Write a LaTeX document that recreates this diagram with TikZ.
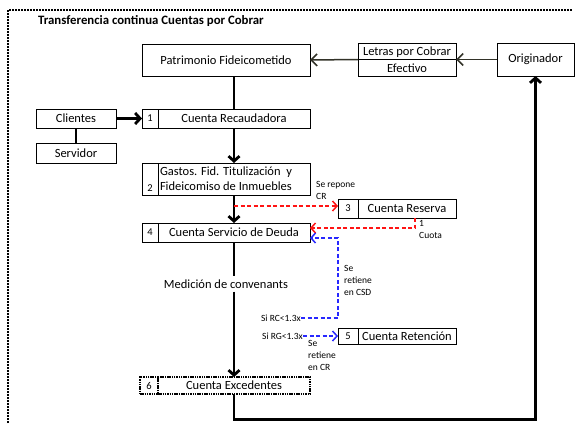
\documentclass[tikz,border=0pt]{standalone}
\usepackage{fontspec}
\setmainfont{Carlito}
\usetikzlibrary{arrows.meta}

\definecolor{repred}{RGB}{255,20,20}
\definecolor{retblue}{RGB}{40,40,255}
\definecolor{linegray}{RGB}{50,50,40}

\begin{document}
\begin{tikzpicture}[x=1pt, y=-1pt]

% Define styles
\tikzstyle{box} = [rectangle, draw=black, line width=0.9pt, inner sep=2pt, outer sep=0pt, text centered, font=\fontsize{12.5}{15}\selectfont]
\tikzstyle{numcell} = [box, minimum width=16pt, font=\fontsize{10.5}{15}\selectfont]
\tikzstyle{note} = [inner sep=0pt, align=left, font=\fontsize{9.5}{12}\selectfont]
\tikzstyle{flow} = [line width=2.8pt, -{Straight Barb[length=5pt,width=11pt]}]
\tikzstyle{transfer} = [draw=linegray, line width=1.5pt, -{Straight Barb[length=6pt,width=12pt,line width=1.6pt]}]
\tikzstyle{reddash} = [draw=repred, line width=1.5pt, dash pattern=on 4pt off 2.5pt, -{Straight Barb[length=4.5pt,width=10pt]}]
\tikzstyle{bluedash} = [draw=retblue, line width=1.5pt, dash pattern=on 4pt off 2.5pt, -{Straight Barb[length=4.5pt,width=10pt]}]

\useasboundingbox (0,0) rectangle (577,423);

% Outer frame and title
\draw [line width=1.3pt, dash pattern=on 2pt off 1pt] (8,423) -- (8,10) -- (572,10);
\node [anchor=west, inner sep=0pt, font=\bfseries\fontsize{12.8}{14}\selectfont] (title) at (38,21) {Transferencia continua Cuentas por Cobrar};

% Top row
\node [box, minimum width=168pt, minimum height=32pt] (patr) at (226,60) {Patrimonio Fideicometido};
\node [box, minimum width=98pt, minimum height=33pt, align=center, font=\fontsize{12.5}{16.5}\selectfont] (letras) at (407,59.5) {Letras por Cobrar\\Efectivo};
\draw [line width=0.9pt] (letras.west) -- (letras.east);
\node [box, minimum width=77pt, minimum height=33pt] (orig) at (535.5,59.5) {Originador};

% Collection side
\node [box, minimum width=80pt, minimum height=19pt] (clientes) at (76,118.5) {Clientes};
\node [box, minimum width=80pt, minimum height=20pt] (servidor) at (76,153) {Servidor};

% Accounts
\node [numcell, minimum height=19pt] (rec_n) at (150,118.5) {1};
\node [box, minimum width=152pt, minimum height=19pt] (rec) at (234,118.5) {Cuenta Recaudadora};

\node [numcell, minimum height=32pt, align=center] (gastos_n) at (150,179) {\strut\\2};
\node [box, minimum height=32pt, text width=148pt, inner xsep=2pt, align=flush left] (gastos) at (234,179) {Gastos. Fid. Titulización~ y\\Fideicomiso de Inmuebles};

\node [numcell, minimum width=20pt, minimum height=19pt] (reserva_n) at (348,208.5) {3};
\node [box, minimum width=98pt, minimum height=19pt] (reserva) at (407,208.5) {Cuenta Reserva};

\node [numcell, minimum height=19pt] (deuda_n) at (150,232.5) {4};
\node [box, minimum width=152pt, minimum height=19pt] (deuda) at (234,232.5) {Cuenta Servicio de Deuda};

\node [font=\fontsize{12.5}{15}\selectfont, inner sep=3pt] (medicion) at (226,284) {Medición de convenants};

\node [numcell, minimum width=20pt, minimum height=16pt] (retencion_n) at (348,336) {\hfill5};
\node [box, minimum width=98pt, minimum height=16pt] (retencion) at (407,336) {Cuenta Retención};

\node [numcell, minimum width=18pt, minimum height=17pt, line width=1.1pt, dash pattern=on 1.5pt off 0.8pt] (exced_n) at (149,385.5) {6};
\node [box, minimum width=152pt, minimum height=17pt, line width=1.1pt, dash pattern=on 1.5pt off 0.8pt] (exced) at (234,385.5) {Cuenta Excedentes};

% Labels
\node [note, anchor=north west] (repone) at (316,181) {Se repone\\CR};
\node [note, anchor=north west] (cuota) at (419,220) {1\\Cuota};
\node [note, anchor=north west] (ret_csd) at (344,265) {Se\\retiene\\en CSD};
\node [note, anchor=north west] (ret_cr) at (308,340) {Se\\retiene\\en CR};
\node [note, anchor=east] (sirc) at (301,318) {Si RC<1.3x};
\node [note, anchor=east] (sirg) at (303,336) {Si RG<1.3x};

% Transfer of receivables
\draw [transfer] (orig.west) -- (letras.east);
\draw [transfer] (letras.west) -- (patr.east);

% Main flow
\draw [line width=2.8pt] (rec.north) -- (rec.north |- patr.south);
\draw [flow] (clientes.east) -- (rec_n.west);
\draw [line width=2.8pt] (clientes.south) -- (servidor.north);
\draw [flow] (rec.south) -- (gastos.north);
\draw [flow] (gastos.south) -- (deuda.north);
\draw [line width=2.8pt] (deuda.south) -- (deuda.south |- medicion.north);
\draw [flow] (exced.north |- medicion.south) -- (exced.north);
\draw [flow] (exced.south) -- ++(0,25.5) -| (orig.south);

% Reserve account
\coordinate (repone_in) at ([yshift=2.5pt]reserva_n.west);
\draw [reddash] (gastos.south |- repone_in) -- (repone_in);
\draw [reddash] ([xshift=8pt]reserva.south) |- ([yshift=4.5pt]deuda.east);

% Covenant retention
\coordinate (csd) at (338,238);
\draw [bluedash] (sirc.east) -| (csd) -- (csd -| deuda.east);
\draw [bluedash] (sirg.east) -- (retencion_n.west);

\end{tikzpicture}
\end{document}
